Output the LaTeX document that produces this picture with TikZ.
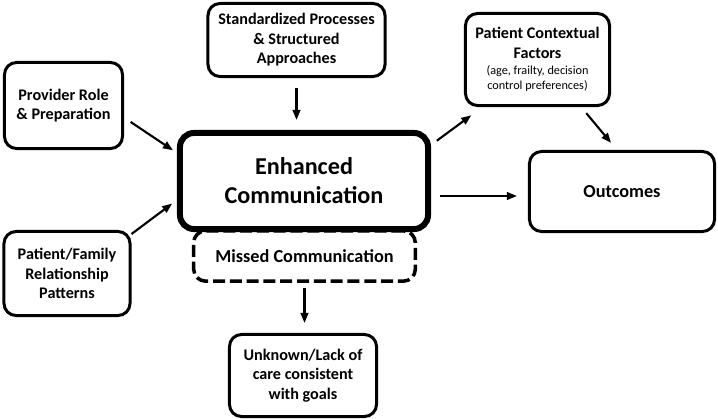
\documentclass[tikz,border=0pt]{standalone}
\usepackage{fontspec}
\setmainfont{Carlito}
\usetikzlibrary{arrows.meta,calc}
\newcommand\smallnote{\fontsize{8.7}{10.6}\selectfont\mdseries}
\tikzset{
  box/.style={draw, line width=0.075cm, rounded corners=0.3cm, align=center, inner sep=1pt,
    font=\fontsize{11.5}{13.8}\selectfont\bfseries},
  mainbox/.style={box, line width=0.15cm, rounded corners=0.35cm,
    font=\fontsize{17.2}{20.6}\selectfont\bfseries},
  missbox/.style={box, line width=0.0875cm, dash pattern=on 0.3cm off 0.12cm,
    font=\fontsize{13}{15.6}\selectfont\bfseries},
  arr/.style={line width=1.5pt, -{Triangle[length=0.25cm,width=0.19cm]}}
}
\begin{document}
\begin{tikzpicture}[x=0.025cm, y=-0.025cm]
			%%%%% START %%%%%
			\useasboundingbox (0,0) rectangle (718,419);
			
			\node[missbox, minimum width=5.54cm, minimum height=1.26cm] (miss) at (304.5,256) {\raisebox{-2pt}{Missed Communication}};
			\node[mainbox, fill=white, minimum width=6.2cm, minimum height=2.4cm] (enh) at (304,181) {Enhanced\\Communication};
			
			\node[box, minimum width=4.425cm, minimum height=1.825cm] (std) at (296.5,40) {Standardized Processes\\\& Structured\\Approaches};
			\node[box, minimum width=2.95cm, minimum height=2.15cm] (prov) at (63.5,105.5) {Provider Role\\\& Preparation};
			\node[box, minimum width=3.15cm, minimum height=2.1cm] (pf) at (67,273.5) {Patient/Family\\Relationship\\Patterns};
			\node[box, minimum width=3.675cm, minimum height=2.05cm] (unk) at (303,375.5) {Unknown/Lack of\\care consistent\\with goals};
			\node[box, minimum width=3.6cm, minimum height=2.3cm] (pcf) at (537.5,59.5) {Patient Contextual\\Factors\\[-1.8pt]{\smallnote (age, frailty, decision}\\[-3.2pt]{\smallnote control preferences)}};
			\node[box, minimum width=4.625cm, minimum height=2.0cm, font=\fontsize{13}{15.6}\selectfont\bfseries] (out) at (622,191.5) {Outcomes};
			
			\draw[arr, shorten <=0.25cm, shorten >=0.25cm] (std.south) -- (std.south |- enh.north);
			\draw[arr, shorten <=0.2cm, shorten >=0.12cm] ([yshift=-0.3cm]prov.east) -- ([yshift=0.7cm]enh.west);
			\draw[arr, shorten >=0.15cm] ([yshift=-0.1cm]pf.north east) -- ([yshift=-0.475cm]enh.west);
			\draw[arr, shorten <=0.18cm, shorten >=0.35cm] ([yshift=0.9cm]enh.east) -- ([xshift=-1.375cm]pcf.south);
			\draw[arr, shorten <=0.2cm, shorten >=0.23cm] ([xshift=1.09cm]pcf.south) -- ([xshift=-0.125cm]out.north);
			\draw[arr, shorten <=0.225cm, shorten >=0.275cm] ([yshift=-0.375cm]enh.east) -- ([yshift=-0.375cm]enh.east -| out.west);
			\draw[arr, shorten <=0.125cm, shorten >=0.25cm] (miss.south) -- (miss.south |- unk.north);
			
			%%%%% END %%%%%
\end{tikzpicture}
\end{document}
